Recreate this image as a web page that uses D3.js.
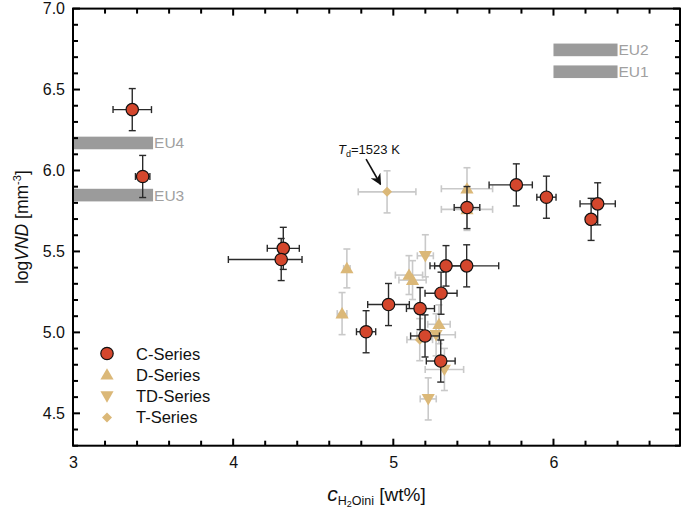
<!DOCTYPE html>
<html><head><meta charset="utf-8">
<script src="https://cdn.jsdelivr.net/npm/d3@7"></script>
<style>
body{margin:0;background:#fff;}
svg text{font-family:"Liberation Sans",Arial,Helvetica,sans-serif;}
</style></head>
<body><svg id="c" width="685" height="520"></svg>
<script>
// ---- data ----
const cX   = [3.37, 3.435, 4.313, 4.30, 4.83, 4.97, 5.167, 5.198, 5.298, 5.296, 5.329, 5.458, 5.46, 5.768, 5.956, 6.276, 6.235];
const cY   = [6.376, 5.963, 5.519, 5.45, 5.004, 5.172, 5.147, 4.978, 5.242, 4.823, 5.411, 5.411, 5.771, 5.911, 5.835, 5.794, 5.698];
const cXlo = [0.12, 0.045, 0.1, 0.33, 0.06, 0.13, 0.085, 0.09, 0.1, 0.09, 0.1, 0.2, 0.08, 0.17, 0.06, 0.11, 0.03];
const cXhi = [0.12, 0.045, 0.1, 0.13, 0.06, 0.13, 0.09, 0.09, 0.1, 0.09, 0.1, 0.2, 0.08, 0.1, 0.06, 0.11, 0.03];
const cYerr= [0.13, 0.13, 0.13, 0.13, 0.13, 0.13, 0.13, 0.13, 0.13, 0.13, 0.125, 0.13, 0.13, 0.13, 0.13, 0.13, 0.13];

const dX   = [4.68, 4.71, 5.098, 5.12, 5.285, 5.46, 5.46];
const dY   = [5.116, 5.395, 5.354, 5.323, 5.05, 5.887, 5.76];
const dXerr= [0.03, 0.02, 0.085, 0.085, 0.07, 0.16, 0.16];
const dYerr= [0.13, 0.12, 0.12, 0.12, 0.12, 0.13, 0.13];

const tdX   = [5.2, 5.267, 5.319, 5.218];
const tdY   = [5.473, 4.985, 4.771, 4.589];
const tdXerr= [0.05, 0.12, 0.12, 0.05];
const tdYerr= [0.13, 0.13, 0.13, 0.13];

const tX   = [4.961, 5.165];
const tY   = [5.868, 4.955];
const tXerr= [0.18, 0.08];
const tYerr= [0.13, 0.13];

const euNames = ["EU1", "EU2", "EU3", "EU4"];
const euX0    = [6.0, 6.0, 3.0, 3.0];
const euX1    = [6.4, 6.4, 3.5, 3.5];
const euYc    = [6.61, 6.745, 5.848, 6.17];
const euHalf  = 0.039;

const xTicks = [3, 4, 5, 6];
const yTicks = [4.5, 5.0, 5.5, 6.0, 6.5, 7.0];
const legendNames = ["C-Series", "D-Series", "TD-Series", "T-Series"];

// ---- scales ----
const svg = d3.select("#c");
const x = d3.scaleLinear().domain([3, 6.79]).range([73, 680]);
const y = d3.scaleLinear().domain([4.3, 7.0]).range([445.7, 8.6]);

const RED = "#d4472d", TAN = "#dbb878", GRAYBAR = "#c9c9c9", EUC = "#9b9b9b";

// EU bars
euNames.forEach((n,i)=>{
  svg.append("rect").attr("x", x(euX0[i])).attr("width", x(euX1[i])-x(euX0[i]))
    .attr("y", y(euYc[i]+euHalf)).attr("height", y(euYc[i]-euHalf)-y(euYc[i]+euHalf))
    .attr("fill", EUC);
  svg.append("text").attr("x", x(euX1[i])+1).attr("y", y(euYc[i])+5.5)
    .attr("font-size", 15.5).attr("fill", "#a0a0a0").text(n);
});

// error bar helper
function errbars(xs, ys, xlo, xhi, yerr, color, w){
  const g = svg.append("g").attr("stroke", color).attr("stroke-width", w).attr("fill","none");
  const cap = 3.5;
  xs.forEach((xv,i)=>{
    const px = x(xv), py = y(ys[i]);
    const xl = x(xv - xlo[i]), xr = x(xv + xhi[i]);
    const yt = y(ys[i] + yerr[i]), yb = y(ys[i] - yerr[i]);
    g.append("line").attr("x1", xl).attr("x2", xr).attr("y1", py).attr("y2", py);
    g.append("line").attr("x1", xl).attr("x2", xl).attr("y1", py-cap).attr("y2", py+cap);
    g.append("line").attr("x1", xr).attr("x2", xr).attr("y1", py-cap).attr("y2", py+cap);
    g.append("line").attr("x1", px).attr("x2", px).attr("y1", yt).attr("y2", yb);
    g.append("line").attr("x1", px-cap).attr("x2", px+cap).attr("y1", yt).attr("y2", yt);
    g.append("line").attr("x1", px-cap).attr("x2", px+cap).attr("y1", yb).attr("y2", yb);
  });
}

const triUp = d3.symbol().type(d3.symbolTriangle).size(75);
const triDown = d3.symbol().type(d3.symbolTriangle).size(75);
const diamond = d3.symbol().type(d3.symbolSquare).size(50);

// gray series
errbars(dX, dY, dXerr, dXerr, dYerr, GRAYBAR, 1.6);
errbars(tdX, tdY, tdXerr, tdXerr, tdYerr, GRAYBAR, 1.6);
errbars(tX, tY, tXerr, tXerr, tYerr, GRAYBAR, 1.6);

dX.forEach((v,i)=> svg.append("path").attr("d", triUp())
  .attr("transform", `translate(${x(v)},${y(dY[i])+1})`).attr("fill", TAN));
tdX.forEach((v,i)=> svg.append("path").attr("d", triDown())
  .attr("transform", `translate(${x(v)},${y(tdY[i])-1}) rotate(180)`).attr("fill", TAN));
tX.forEach((v,i)=> svg.append("path").attr("d", diamond())
  .attr("transform", `translate(${x(v)},${y(tY[i])}) rotate(45)`).attr("fill", TAN));

// C series
errbars(cX, cY, cXlo, cXhi, cYerr, "#2a2a2a", 1.4);
cX.forEach((v,i)=> svg.append("circle").attr("cx", x(v)).attr("cy", y(cY[i])).attr("r", 6.2)
  .attr("fill", RED).attr("stroke", "#111").attr("stroke-width", 1.2));

// frame and ticks
const frame = svg.append("g");
frame.append("rect").attr("x", x(3)).attr("y", y(7)).attr("width", x(6.79)-x(3)).attr("height", y(4.3)-y(7))
  .attr("fill","none").attr("stroke","#000").attr("stroke-width",2);

const xMinor = d3.range(3, 6.79, 0.2);
const yMinor = d3.range(4.3, 7.0001, 0.1);
xMinor.forEach(v=>{
  const major = Math.abs(v - Math.round(v)) < 1e-6;
  const L = major ? 7 : 5;
  frame.append("line").attr("x1", x(v)).attr("x2", x(v)).attr("y1", y(4.3)).attr("y2", y(4.3)-L).attr("stroke","#000").attr("stroke-width", 2);
  frame.append("line").attr("x1", x(v)).attr("x2", x(v)).attr("y1", y(7)).attr("y2", y(7)+L).attr("stroke","#000").attr("stroke-width", 2);
});
yMinor.forEach(v=>{
  const major = Math.abs(v*2 - Math.round(v*2)) < 1e-6;
  const L = major ? 7 : 5;
  frame.append("line").attr("x1", x(3)).attr("x2", x(3)+L).attr("y1", y(v)).attr("y2", y(v)).attr("stroke","#000").attr("stroke-width", 2);
  frame.append("line").attr("x1", x(6.79)).attr("x2", x(6.79)-L).attr("y1", y(v)).attr("y2", y(v)).attr("stroke","#000").attr("stroke-width", 2);
});

// tick labels via axis generators (lines hidden)
const xa = svg.append("g").attr("transform", `translate(0,${y(4.3)})`)
  .call(d3.axisBottom(x).tickValues(xTicks).tickFormat(d3.format("d")).tickSize(0).tickPadding(11));
const ya = svg.append("g").attr("transform", `translate(${x(3)},0)`)
  .call(d3.axisLeft(y).tickValues(yTicks).tickFormat(d3.format(".1f")).tickSize(0).tickPadding(8));
[xa, ya].forEach(a=>{
  a.select(".domain").remove();
  a.selectAll("text").attr("font-size", 16).attr("fill", "#111")
    .attr("font-family", '"Liberation Sans",Arial,sans-serif');
});

// legend
const lg = svg.append("g");
const lx = 107, ly0 = 353.5, ldy = 21.3;
lg.append("circle").attr("cx", lx).attr("cy", ly0).attr("r", 6.2).attr("fill", RED).attr("stroke","#111").attr("stroke-width",1.2);
lg.append("path").attr("d", triUp()).attr("transform", `translate(${lx},${ly0+ldy+1})`).attr("fill", TAN);
lg.append("path").attr("d", triDown()).attr("transform", `translate(${lx},${ly0+2*ldy-1}) rotate(180)`).attr("fill", TAN);
lg.append("path").attr("d", diamond()).attr("transform", `translate(${lx},${ly0+3*ldy}) rotate(45)`).attr("fill", TAN);
legendNames.forEach((n,i)=> lg.append("text").attr("x", 136).attr("y", ly0 + i*ldy + 6)
  .attr("font-size", 16.5).attr("fill", "#111").text(n));

// annotation
const ann = svg.append("text").attr("x", x(4.655)).attr("y", y(6.10)).attr("font-size", 13).attr("fill","#111");
ann.append("tspan").attr("font-style","italic").text("T");
ann.append("tspan").attr("font-size", 9).attr("dy", 3).text("d");
ann.append("tspan").attr("dy", -3).text("=1523 K");
svg.append("defs").append("marker").attr("id","ah").attr("viewBox","0 0 10 10").attr("refX",9).attr("refY",5)
  .attr("markerWidth",7).attr("markerHeight",7).attr("orient","auto")
  .append("path").attr("d","M0,0 L10,5 L0,10 L3,5 Z").attr("fill","#111");
svg.append("line").attr("x1", x(4.83)).attr("y1", y(6.07)).attr("x2", x(4.92)).attr("y2", y(5.915))
  .attr("stroke","#111").attr("stroke-width",1.6).attr("marker-end","url(#ah)");

// axis titles
const xt = svg.append("text").attr("x", (x(3)+x(6.79))/2).attr("y", 501).attr("text-anchor","middle")
  .attr("font-size", 19).attr("fill","#111");
xt.append("tspan").attr("font-style","italic").attr("font-size", 21).text("c");
xt.append("tspan").attr("font-size", 12.5).attr("dy", 4).text("H");
xt.append("tspan").attr("font-size", 9).attr("dy", 2).text("2");
xt.append("tspan").attr("font-size", 12.5).attr("dy", -2).text("Oini");
xt.append("tspan").attr("dy", -4).text(" [wt%]");

const yt = svg.append("text").attr("transform", `translate(28,${(y(4.3)+y(7))/2}) rotate(-90)`)
  .attr("text-anchor","middle").attr("font-size", 17.5).attr("fill","#111");
yt.append("tspan").text("log");
yt.append("tspan").attr("font-style","italic").text("VND");
yt.append("tspan").text(" [mm");
yt.append("tspan").attr("font-size", 11).attr("dy", -7).text("-3");
yt.append("tspan").attr("dy", 7).text("]");
</script></body></html>
